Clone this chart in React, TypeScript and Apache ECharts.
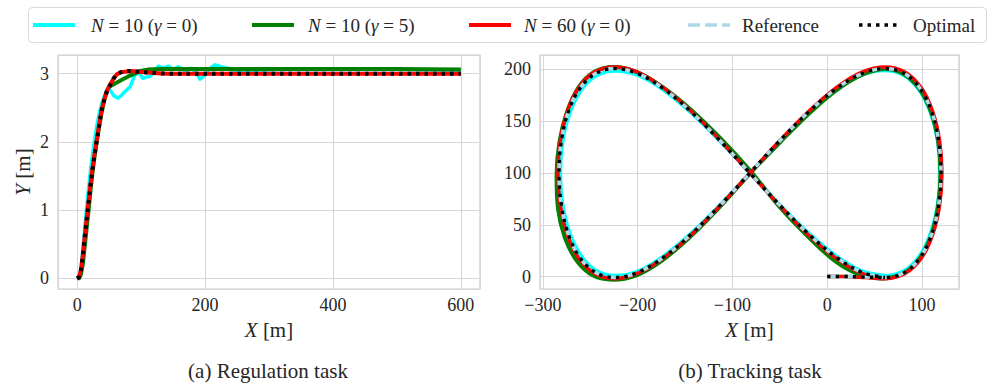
import React, { useEffect, useRef } from 'react';
import * as echarts from 'echarts';

const FONT = "'Liberation Serif', 'Times New Roman', serif";
const TXT = '#262626';
const GRIDC = '#d6d6d6';

// ---------- (a) Regulation task ----------
const regOptX = [0, 3, 6, 9, 12, 15, 18, 21, 24, 27, 30, 34, 38, 42, 47, 52, 57, 62, 68, 75, 85, 95, 105, 120, 140, 200, 300, 400, 500, 600];
const regOptY = [0, 0.02, 0.12, 0.35, 0.62, 0.88, 1.13, 1.38, 1.6, 1.8, 1.98, 2.22, 2.46, 2.6, 2.75, 2.84, 2.93, 2.99, 3.02, 3.04, 3.04, 3.03, 3.02, 3.01, 3.0, 3.0, 3.0, 3.0, 3.0, 3.0];
const regN60Y = [0, 0.02, 0.13, 0.36, 0.63, 0.89, 1.14, 1.39, 1.61, 1.81, 1.99, 2.23, 2.46, 2.61, 2.76, 2.85, 2.93, 2.99, 3.02, 3.03, 3.04, 3.03, 3.02, 3.01, 3.0, 3.0, 3.0, 3.0, 3.0, 3.0];
const regCyanX = [0, 3, 6, 9, 12, 15, 18, 21, 24, 27, 30, 34, 38, 42, 46, 49, 53, 58, 64, 69, 75, 83, 90, 96, 103, 108, 114, 122, 127, 135, 143, 150, 158, 169, 179, 187, 192, 200, 208, 216, 226, 236, 249, 270, 320, 400, 500, 600];
const regCyanY = [0, 0.03, 0.15, 0.42, 0.75, 1.05, 1.33, 1.6, 1.82, 2.02, 2.2, 2.4, 2.55, 2.66, 2.75, 2.79, 2.74, 2.67, 2.64, 2.68, 2.74, 2.81, 2.98, 3.02, 2.93, 2.95, 2.96, 3.05, 3.11, 3.08, 3.11, 3.06, 3.1, 3.04, 3.08, 3.0, 2.92, 2.98, 3.08, 3.13, 3.1, 3.08, 3.04, 3.05, 3.06, 3.06, 3.06, 3.05];
const regGreenX = [0, 3, 6, 9, 12, 15, 18, 21, 24, 27, 30, 34, 38, 42, 46, 50, 60, 70, 80, 90, 98, 110, 130, 200, 300, 400, 500, 600];
const regGreenY = [0, 0.0, 0.06, 0.22, 0.48, 0.75, 1.02, 1.3, 1.55, 1.77, 1.97, 2.2, 2.42, 2.6, 2.74, 2.81, 2.86, 2.91, 2.96, 3.0, 3.04, 3.06, 3.07, 3.07, 3.07, 3.07, 3.07, 3.06];

// ---------- (b) Tracking task ----------
const refX = [0, 20, 40, 61.0, 81.5, 98.0, 110.1, 117.5, 120.0, 117.5, 110.1, 98.0, 81.5, 61.0, 36.9, 10.0, -19.2, -50.0, -81.5, -113.0, -143.8, -173.0, -199.9, -224.0, -244.5, -261.0, -273.1, -280.5, -283.0, -280.5, -273.1, -261.0, -244.5, -224.0, -199.9, -173.0, -143.8, -113.0, -81.5, -50.0, -19.2, 10.0, 36.9, 61.0];
const refY = [0, 0, -0.5, -1, 3.9, 18.3, 40.6, 68.8, 100, 131.2, 159.4, 181.7, 196.1, 201, 196.1, 181.7, 159.4, 131.2, 100, 68.8, 40.6, 18.3, 3.9, -1, 3.9, 18.3, 40.6, 68.8, 100, 131.2, 159.4, 181.7, 196.1, 201, 196.1, 181.7, 159.4, 131.2, 100, 68.8, 40.6, 18.3, 3.9, -1];
const optTrkX = refX;
const optTrkY = refY;
const redTrkX = [0, 20, 40, 61, 82, 99, 111, 118.5, 121, 118.5, 111, 99, 82, 61, 36.5, 9.5, -19.2, -50, -81.5, -113, -144, -173.5, -200.5, -224.5, -245.5, -262, -274, -281.5, -284, -281.5, -274, -262, -245.5, -224.5, -200, -173, -143.8, -113, -81.5, -50, -19.5, 9.5, 36.5, 61];
const redTrkY = [0, 0, -1, -2, 3, 17.5, 40, 68.5, 100, 131.5, 160, 182.5, 197.5, 202.5, 197.5, 182.5, 160, 131.5, 100, 68.5, 40, 17.5, 3, -2, 3, 17.5, 40, 68.5, 100, 131.5, 160, 182.5, 197.5, 202.5, 197.5, 182.5, 160, 131.5, 100, 68.5, 40, 17.5, 3, -2];
const cyanTrkX = [0, 20, 40, 61, 81, 97.5, 109, 116.5, 118.5, 116.5, 109, 97, 80.5, 60, 36, 9.5, -19.5, -50, -81.5, -113, -143.5, -172.5, -199, -223, -243.5, -259.5, -271.5, -279, -281.5, -279, -271.5, -259.5, -243.5, -223, -199, -172.5, -143.5, -113, -81.5, -50, -19.5, 9.5, 36.5, 61];
const cyanTrkY = [0, 0, 0, 0.5, 5.5, 20, 42, 69.5, 100, 130.5, 158, 180, 194.5, 199, 194.5, 180.5, 158.5, 130.5, 100, 69.5, 42, 20, 5.5, 1, 5.5, 20, 42, 69.5, 100, 130.5, 158, 180, 194, 198.5, 194, 180, 158, 130.5, 100, 69.5, 42, 20, 5.5, 1];
const greenTrkX = [61, 81.5, 98, 110, 117, 119.5, 117, 109.5, 97.5, 81, 61, 37, 10.5, -18.5, -49.5, -81.5, -114, -145, -175, -202, -226, -247, -264, -276.5, -284, -285.5, -282.5, -274.5, -262.5, -246, -225, -200.5, -173.5, -143.5, -112, -80.5, -49.5, -19, 9, 35.5, 60];
const greenTrkY = [-2, 3.5, 18, 40.5, 68.5, 100, 131, 159, 181, 195.5, 200.5, 195, 180.5, 158, 130, 99.5, 66.5, 38, 15, 1, -3, 1, 15, 37, 65.5, 97.5, 130, 159, 182.5, 197.5, 202.5, 197.5, 183, 161, 133, 101.5, 66.5, 37.5, 14.5, 1.5, -2];

// ---------- legend / labels ----------
const legendLabels = ['{i|N} = 10 ({i|γ} = 0)', '{i|N} = 10 ({i|γ} = 5)', '{i|N} = 60 ({i|γ} = 0)', 'Reference', 'Optimal'];
const captions = ['(a) Regulation task', '(b) Tracking task'];

const C_CYAN = '#00ffff';
const C_GREEN = '#008000';
const C_RED = '#ff0000';
const C_REF = '#add8e6';
const C_OPT = '#000000';
const DASH_REF = [12, 5];
const DOT_OPT = [3.5, 5];

const pairs = (xs: number[], ys: number[]) => xs.map((x, i) => [x, ys[i]]);
const minusFmt = (v: number) => String(v).replace('-', '\u2212');

function valueAxis(gridIndex: number, min: number, max: number, step: number, isX: boolean, name: string, nameGap: number) {
  return {
    type: 'value',
    gridIndex,
    min,
    max,
    minInterval: step,
    maxInterval: step,
    splitNumber: 5,
    axisLine: { show: false },
    axisTick: { show: false },
    splitLine: { show: true, lineStyle: { color: GRIDC, width: 1 } },
    axisLabel: {
      showMinLabel: false,
      showMaxLabel: false,
      fontFamily: FONT,
      fontSize: 18,
      color: TXT,
      margin: isX ? 7 : 9,
      formatter: minusFmt,
    },
    name,
    nameLocation: 'middle',
    nameGap,
    nameTextStyle: {
      fontFamily: FONT,
      fontSize: 21,
      color: TXT,
      rich: { i: { fontFamily: FONT, fontSize: 21, fontStyle: 'italic', color: TXT } },
    },
  };
}

function line(name: string, xi: number, data: number[][], color: string, width: number, type: any, smooth: number) {
  return {
    type: 'line',
    name,
    xAxisIndex: xi,
    yAxisIndex: xi,
    data,
    smooth,
    showSymbol: false,
    symbol: 'none',
    silent: true,
    lineStyle: { color, width, type, cap: 'butt', join: 'round' },
  };
}

const legendColors = [C_CYAN, C_GREEN, C_RED, C_REF, C_OPT];
const legendLineX = [33, 252, 469, 688, 859];
const legendTextX = [91, 308, 524, 742, 913];

function buildGraphic() {
  const els: any[] = [
    {
      type: 'rect',
      shape: { x: 28.5, y: 7.5, width: 958, height: 35, r: 4 },
      style: { fill: '#ffffff', stroke: '#d9d9d9', lineWidth: 1 },
      z: 10,
    },
  ];
  legendLabels.forEach((lab, i) => {
    const dash = i === 3 ? DASH_REF : i === 4 ? DOT_OPT : null;
    els.push({
      type: 'line',
      shape: { x1: legendLineX[i], y1: 25, x2: legendLineX[i] + 42, y2: 25 },
      style: { stroke: legendColors[i], lineWidth: i >= 3 ? 3.5 : 4, lineDash: dash, lineCap: 'butt' },
      z: 11,
    });
    els.push({
      type: 'text',
      x: legendTextX[i],
      y: 25,
      style: {
        text: lab,
        fontFamily: FONT,
        fontSize: 19,
        fill: TXT,
        verticalAlign: 'middle',
        align: 'left',
        rich: { i: { fontFamily: FONT, fontSize: 19, fontStyle: 'italic', fill: TXT } },
      },
      z: 11,
    });
  });
  els.push({
    type: 'text', x: 268, y: 371,
    style: { text: captions[0], fontFamily: FONT, fontSize: 21, fill: TXT, align: 'center', verticalAlign: 'middle' },
  });
  els.push({
    type: 'text', x: 750, y: 371,
    style: { text: captions[1], fontFamily: FONT, fontSize: 21, fill: TXT, align: 'center', verticalAlign: 'middle' },
  });
  return els;
}

export default function App() {
  const ref = useRef<HTMLDivElement>(null);
  useEffect(() => {
    const chart = echarts.init(ref.current!, null, { renderer: 'svg' });
    const option: any = {
      animation: false,
      backgroundColor: '#ffffff',
      grid: [
        { left: 58, top: 55, width: 422, height: 234, show: true, borderColor: '#cccccc', borderWidth: 1.2, backgroundColor: 'transparent', outerBoundsMode: 'none' },
        { left: 540, top: 55, width: 419, height: 234, show: true, borderColor: '#cccccc', borderWidth: 1.2, backgroundColor: 'transparent', outerBoundsMode: 'none' },
      ],
      xAxis: [
        valueAxis(0, -30, 630, 200, true, '{i|X} [m]', 30),
        valueAxis(1, -303, 139, 100, true, '{i|X} [m]', 30),
      ],
      yAxis: [
        valueAxis(0, -0.157, 3.274, 1, false, '{i|Y} [m]', 25),
        valueAxis(1, -12, 214, 50, false, '', 30),
      ],
      series: [
        line('N=10 (γ=0)', 0, pairs(regCyanX, regCyanY), C_CYAN, 3.5, 'solid', 0),
        line('N=10 (γ=5)', 0, pairs(regGreenX, regGreenY), C_GREEN, 4, 'solid', 0),
        line('N=60 (γ=0)', 0, pairs(regOptX, regN60Y), C_RED, 4, 'solid', 0),
        line('Optimal', 0, pairs(regOptX, regOptY), C_OPT, 4, DOT_OPT, 0),
        line('N=10 (γ=0)', 1, pairs(cyanTrkX, cyanTrkY), C_CYAN, 3.5, 'solid', 0.35),
        line('N=10 (γ=5)', 1, pairs(greenTrkX, greenTrkY), C_GREEN, 4, 'solid', 0.35),
        line('N=60 (γ=0)', 1, pairs(redTrkX, redTrkY), C_RED, 3.5, 'solid', 0.35),
        line('Reference', 1, pairs(refX, refY), C_REF, 3.5, DASH_REF, 0.35),
        line('Optimal', 1, pairs(optTrkX, optTrkY), C_OPT, 3.5, DOT_OPT, 0.35),
      ],
      graphic: buildGraphic(),
    };
    chart.setOption(option);
    return () => chart.dispose();
  }, []);
  return (
    <div
      ref={ref}
      style={{ position: 'fixed', left: 0, top: 0, width: 996, height: 390, background: '#ffffff' }}
    />
  );
}
